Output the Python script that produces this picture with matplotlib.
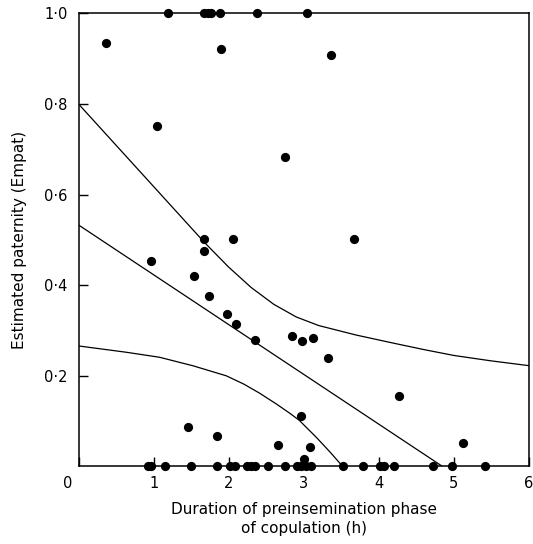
import numpy as np
import matplotlib
matplotlib.use("Agg")
import matplotlib.pyplot as plt
import matplotlib.transforms as mtransforms

# observations: duration (h) vs estimated paternity
dur_top = [1.19, 1.67, 1.72, 1.76, 1.88, 2.38, 3.04]
emp_top = [1.0, 1.0, 1.0, 1.0, 1.0, 1.0, 1.0]

dur_mid = [0.36, 1.895, 1.044, 2.75, 3.37, 1.669, 2.064, 1.669, 0.964, 1.54,
           1.74, 3.668, 1.975, 2.094, 2.347, 2.85, 2.976, 3.12, 3.33, 4.266,
           2.96, 3.08, 3.01, 5.12, 1.465, 1.846, 2.66]
emp_mid = [0.935, 0.921, 0.752, 0.684, 0.908, 0.502, 0.502, 0.476, 0.454, 0.42,
           0.377, 0.502, 0.336, 0.315, 0.28, 0.287, 0.277, 0.283, 0.239, 0.156,
           0.111, 0.043, 0.016, 0.0525, 0.087, 0.067, 0.047]

dur_zero = [0.93, 0.97, 1.15, 1.505, 1.845, 2.015, 2.08, 2.24, 2.30, 2.35,
            2.53, 2.75, 2.91, 2.97, 3.03, 3.10, 3.53, 3.79, 4.02, 4.07,
            4.2, 4.72, 4.98, 5.41]
emp_zero = [0.0] * len(dur_zero)

# regression line and confidence bands
fit_x = [0.0, 4.85]
fit_y = [0.533, 0.0]

upper_x = [0.0, 0.84, 1.68, 2.0, 2.3, 2.6, 2.9, 3.2, 3.7, 4.2, 4.6, 5.0, 5.5, 6.0]
upper_y = [0.80, 0.647, 0.494, 0.44, 0.395, 0.358, 0.33, 0.311, 0.29, 0.272, 0.258, 0.245, 0.233, 0.2225]

lower_x = [0.0, 0.64, 1.08, 1.53, 1.97, 2.2, 2.41, 2.635, 2.81, 2.94, 3.17, 3.35, 3.52]
lower_y = [0.266, 0.252, 0.241, 0.222, 0.2, 0.182, 0.162, 0.138, 0.118, 0.102, 0.064, 0.032, 0.0]

xticks = [0, 1, 2, 3, 4, 5, 6]
yticks = [0.2, 0.4, 0.6, 0.8, 1.0]
ytick_labels = ["0·2", "0·4", "0·6", "0·8", "1·0"]

plt.rcParams['font.family'] = ['DejaVu Sans']

fig = plt.figure(figsize=(5.33, 5.44), dpi=100)
ax = fig.add_axes([0.1473, 0.1425, 0.845, 0.833])

line_kw = dict(color='black', lw=0.9)
ax.plot(fit_x, fit_y, **line_kw)
ax.plot(upper_x, upper_y, **line_kw)
ax.plot(lower_x, lower_y, **line_kw)

dot_kw = dict(color='black', s=44, zorder=5, clip_on=False, linewidths=0)
ax.scatter(dur_top, emp_top, **dot_kw)
ax.scatter(dur_mid, emp_mid, **dot_kw)
ax.scatter(dur_zero, emp_zero, **dot_kw)

ax.set_xlim(0, 6)
ax.set_ylim(0, 1)
ax.set_xticks(xticks)
ax.set_xticklabels([str(t) for t in xticks])
ax.set_yticks(yticks)
ax.set_yticklabels(ytick_labels)

for s in ax.spines.values():
    s.set_linewidth(1.1)

ax.tick_params(axis='both', direction='in', length=6.5, width=1.0, labelsize=10.5)
ax.tick_params(axis='x', pad=7)
ax.tick_params(axis='y', pad=8)
ax.tick_params(top=False, right=False)

# the 0 on the x axis sits left of the corner
lbl0 = ax.get_xticklabels()[0]
lbl0.set_transform(lbl0.get_transform() + mtransforms.ScaledTranslation(-11 / 100, 0, fig.dpi_scale_trans))

ax.set_xlabel("Duration of preinsemination phase\nof copulation (h)", fontsize=11, labelpad=8, linespacing=1.3)
ax.set_ylabel("Estimated paternity (Empat)", fontsize=11, labelpad=12)

fig.savefig("out.png", dpi=100)
